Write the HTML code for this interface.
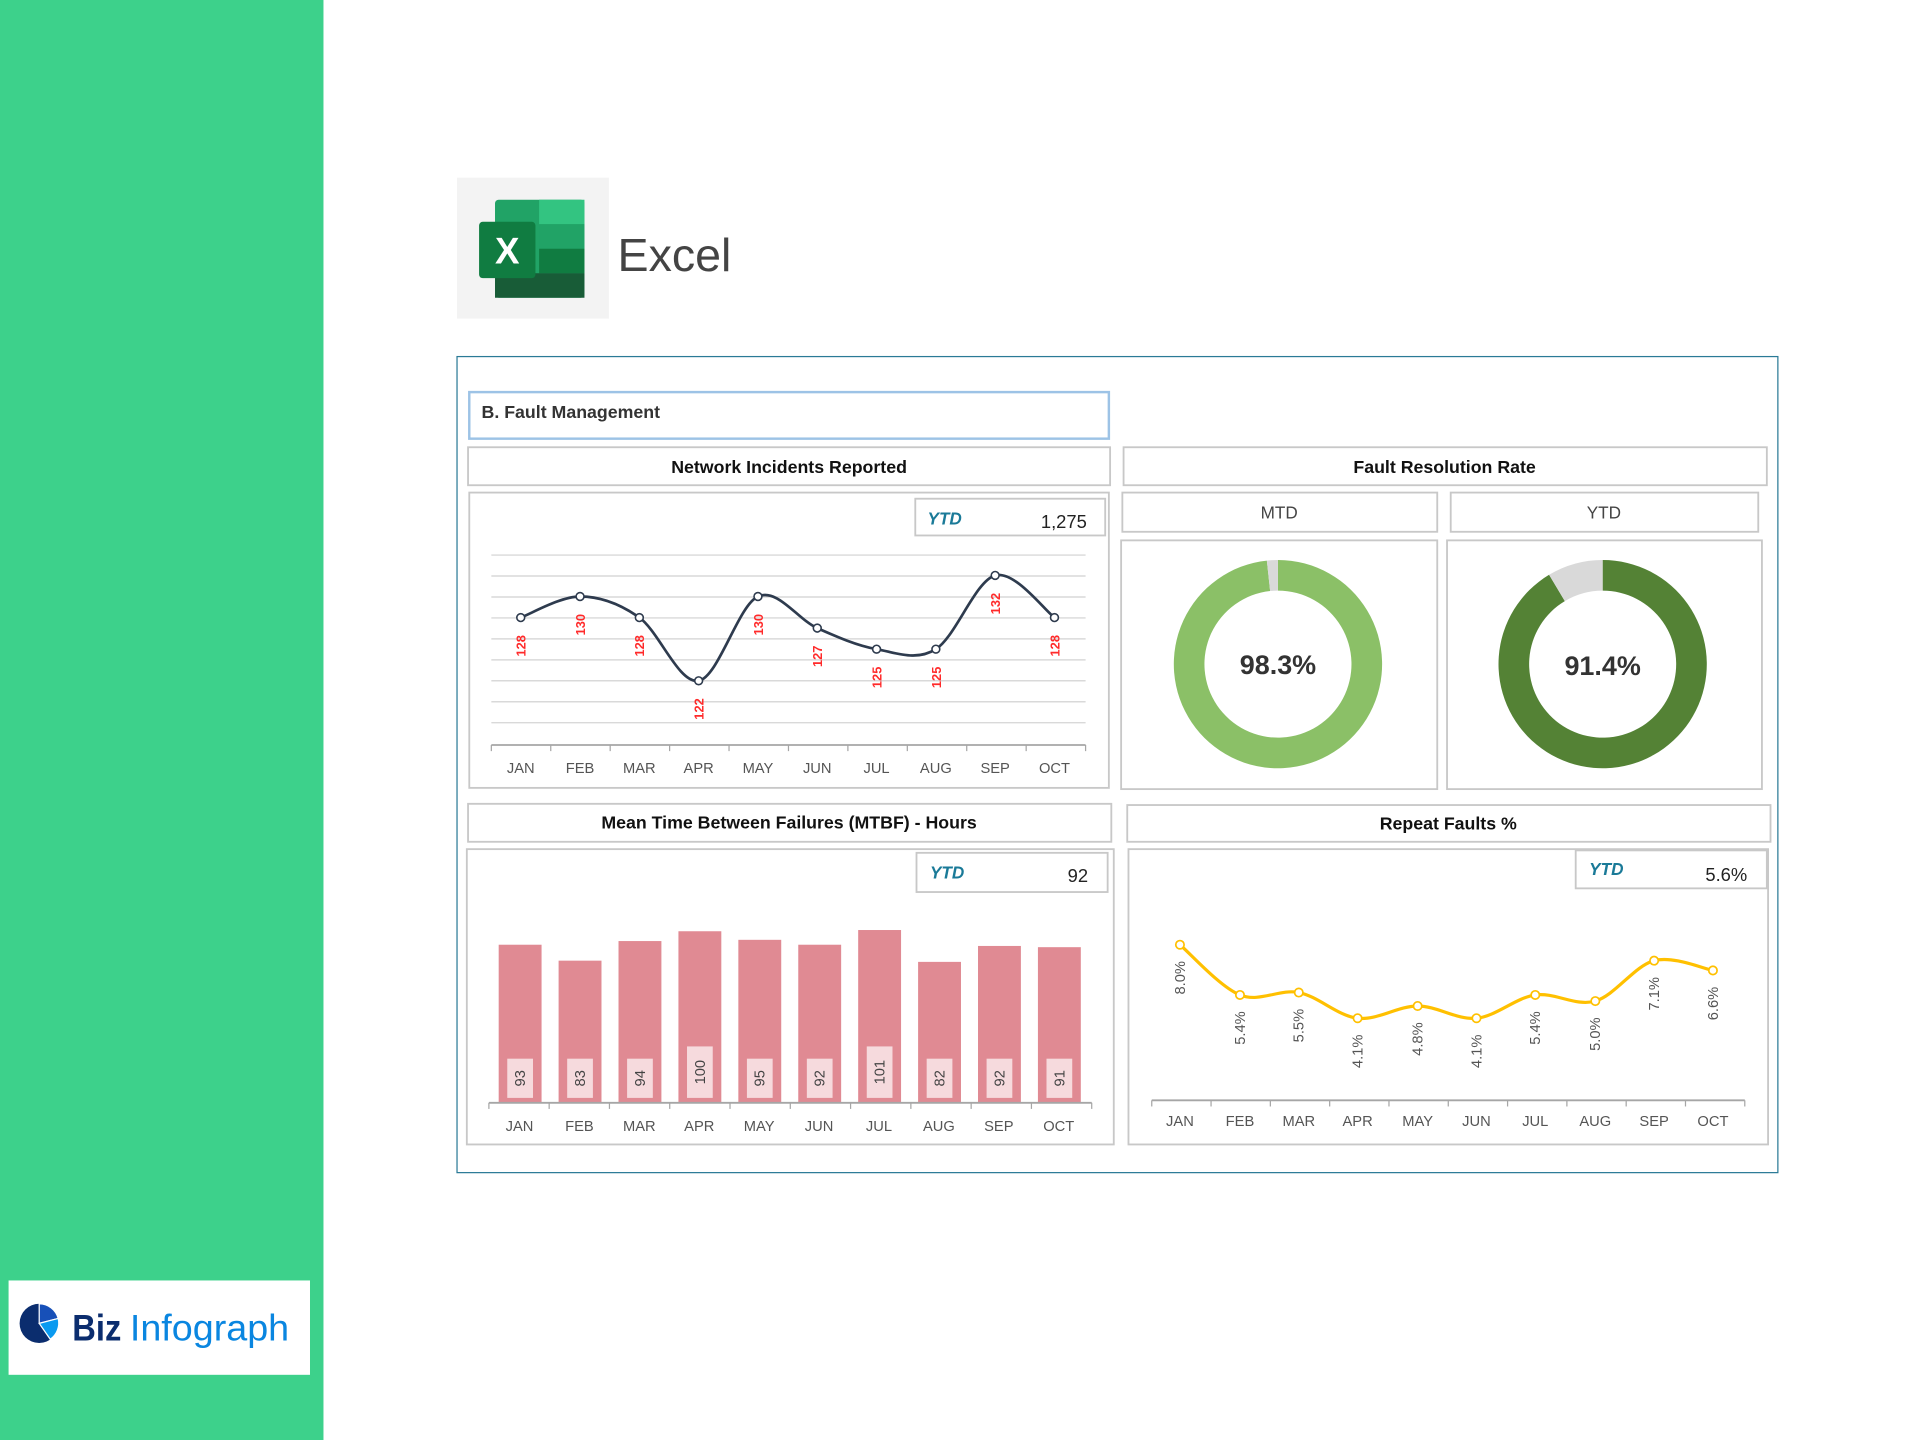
<!DOCTYPE html>
<html><head><meta charset="utf-8"><style>
html,body{margin:0;padding:0;background:#fff;}
svg{display:block;}
text{font-family:"Liberation Sans",sans-serif;}
</style></head><body>
<svg id="s" width="1920" height="1440" viewBox="0 0 1567 1175.2" preserveAspectRatio="none" xmlns="http://www.w3.org/2000/svg">
<rect x="0" y="0" width="1567" height="1176" fill="#fff"/>
<rect x="0" y="0" width="264" height="1176" fill="#3dd18b"/>
<rect x="7" y="1045" width="246" height="77" fill="#fff"/>
<g transform="translate(32,1080)">
<circle r="16" fill="#0b2d6e"/>
<path d="M0,0 L0,-16 A16,16 0 0 1 15.5,-4 Z" fill="#1750b8" stroke="#fff" stroke-width="1"/>
<path d="M0,0 L15.5,-4 A16,16 0 0 1 9,13 Z" fill="#0a9af0" stroke="#fff" stroke-width="1"/>
</g>
<text x="59" y="1094" font-size="30" fill="#0b2d6e" font-weight="bold" textLength="40" lengthAdjust="spacingAndGlyphs">Biz</text>
<text x="106" y="1094" font-size="30" fill="#0a86e0" textLength="130" lengthAdjust="spacingAndGlyphs">Infograph</text>

<rect x="373" y="145" width="124" height="115" fill="#f3f3f3"/>
<rect x="404" y="163" width="73" height="80" rx="3" fill="#21a366"/>
<rect x="440" y="163" width="37" height="20" fill="#33c481"/>
<rect x="440" y="183" width="37" height="20" fill="#21a366"/>
<rect x="440" y="203" width="37" height="20" fill="#107c41"/>
<rect x="404" y="223" width="73" height="20" fill="#185c37"/>
<rect x="391" y="181" width="46" height="46" rx="3" fill="#107c41"/>
<text x="414" y="215" font-size="30" fill="#fff" text-anchor="middle" font-weight="bold">X</text>
<text x="504" y="221" font-size="38" fill="#444">Excel</text>

<rect x="373" y="291" width="1078" height="666" fill="none" stroke="#2a7a96" stroke-width="1"/>
<rect x="383" y="320" width="522" height="38" fill="#fff" stroke="#9dc3e6" stroke-width="2"/>
<text x="393" y="341" font-size="14.5" font-weight="bold" fill="#333">B. Fault Management</text>

<g fill="#fff" stroke="#c8c8c8" stroke-width="1.5">
<rect x="382" y="365" width="524" height="31"/>
<rect x="917" y="365" width="525" height="31"/>
<rect x="916" y="402" width="257" height="32"/>
<rect x="1184" y="402" width="251" height="32"/>
<rect x="383" y="402" width="522" height="241"/>
<rect x="915" y="441" width="258" height="203"/>
<rect x="1181" y="441" width="257" height="203"/>
<rect x="382" y="656" width="525" height="31"/>
<rect x="381" y="693" width="528" height="241"/>
<rect x="920" y="657" width="525" height="30"/>
<rect x="921" y="693" width="522" height="241"/>
<rect x="747" y="407" width="155" height="30"/>
<rect x="748" y="696" width="156" height="32"/>
<rect x="1286" y="694" width="156" height="31"/>
</g>
<g font-size="14.5" font-weight="bold" fill="#111" text-anchor="middle">
<text x="644" y="386">Network Incidents Reported</text>
<text x="1179" y="386">Fault Resolution Rate</text>
<text x="644" y="676">Mean Time Between Failures (MTBF) - Hours</text>
<text x="1182" y="677">Repeat Faults %</text>
</g>
<g font-size="14" fill="#444" text-anchor="middle">
<text x="1044" y="423">MTD</text>
<text x="1309" y="423">YTD</text>
</g>
<g font-size="14" font-weight="bold" font-style="italic" fill="#1a7a98">
<text x="757" y="428">YTD</text><text x="759" y="717">YTD</text><text x="1297" y="714">YTD</text>
</g>
<g font-size="15" fill="#222" text-anchor="end">
<text x="887" y="431">1,275</text><text x="888" y="720">92</text><text x="1426" y="719">5.6%</text>
</g>

<g id="donuts"></g>
<text x="1043" y="550" font-size="22" font-weight="bold" fill="#333" text-anchor="middle">98.3%</text>
<text x="1308" y="551" font-size="22" font-weight="bold" fill="#333" text-anchor="middle">91.4%</text>

<g id="g1"></g><g id="g2"></g><g id="g3"></g>
</svg>
<script>
var NS="http://www.w3.org/2000/svg";
function el(p,t,a,txt){var e=document.createElementNS(NS,t);for(var k in a)e.setAttribute(k,a[k]);if(txt!=null)e.textContent=txt;p.appendChild(e);return e;}
function smooth(pts){var d="M"+pts[0][0]+","+pts[0][1];for(var i=0;i<pts.length-1;i++){var p0=pts[i-1]||pts[i],p1=pts[i],p2=pts[i+1],p3=pts[i+2]||p2;var t=6;d+=" C"+(p1[0]+(p2[0]-p0[0])/t)+","+(p1[1]+(p2[1]-p0[1])/t)+" "+(p2[0]-(p3[0]-p1[0])/t)+","+(p2[1]-(p3[1]-p1[1])/t)+" "+p2[0]+","+p2[1];}return d;}
var M=["JAN","FEB","MAR","APR","MAY","JUN","JUL","AUG","SEP","OCT"];
// donuts
var dg=document.getElementById("donuts");
function donut(cx,cy,ro,ri,frac,col){
 function arc(a0,a1,c){var x=function(r,a){return cx+r*Math.sin(a)},y=function(r,a){return cy-r*Math.cos(a)};var lg=(a1-a0)>Math.PI?1:0;
 el(dg,"path",{d:"M"+x(ro,a0)+","+y(ro,a0)+" A"+ro+","+ro+" 0 "+lg+" 1 "+x(ro,a1)+","+y(ro,a1)+" L"+x(ri,a1)+","+y(ri,a1)+" A"+ri+","+ri+" 0 "+lg+" 0 "+x(ri,a0)+","+y(ri,a0)+" Z",fill:c});}
 var a=frac*2*Math.PI;arc(0,a,col);arc(a,2*Math.PI-0.0001,"#d9d9d9");}
donut(1043,542,85,60,0.983,"#8bc067");
donut(1308,542,85,60,0.914,"#548235");
// chart 1
var g=document.getElementById("g1");
for(var i=0;i<9;i++){var y=453+i*17.1;el(g,"line",{x1:401,x2:886,y1:y,y2:y,stroke:"#d9d9d9","stroke-width":1.2});}
el(g,"line",{x1:401,x2:886,y1:608,y2:608,stroke:"#a6a6a6","stroke-width":1.5});
var v1=[128,130,128,122,130,127,125,125,132,128],p1=[];
for(var i=0;i<10;i++){var x=425+i*48.4;p1.push([x,504-(v1[i]-128)*8.6]);el(g,"text",{x:x,y:631,"font-size":12,fill:"#555","text-anchor":"middle"},M[i]);}
for(var i=0;i<=10;i++){var x=401+i*48.5;el(g,"line",{x1:x,x2:x,y1:608,y2:613,stroke:"#a6a6a6"});}
el(g,"path",{d:smooth(p1),fill:"none",stroke:"#2e3b4e","stroke-width":2.2});
p1.forEach(function(p,i){el(g,"circle",{cx:p[0],cy:p[1],r:3.2,fill:"#fff",stroke:"#2e3b4e","stroke-width":1.3});
 var ly=p[1]+23;el(g,"text",{x:p[0]+4,y:ly,"font-size":10.5,"font-weight":"bold",fill:"#ff2a2a","text-anchor":"middle",transform:"rotate(-90 "+(p[0]+4)+" "+ly+")"},v1[i]);});
// chart 2
g=document.getElementById("g2");
var v2=[93,83,94,100,95,92,101,82,92,91],tops=[771,784,768,760,767,771,759,785,772,773];
for(var i=0;i<10;i++){var x=407+i*48.9;el(g,"rect",{x:x,y:tops[i],width:35,height:900-tops[i],fill:"#e08a93"});
 var big=v2[i]>=100;var bh=big?42:32,by=896-bh;el(g,"rect",{x:x+7,y:by,width:21,height:bh,fill:"#f6dadd"});
 var cx=x+17.5,cy=by+bh/2;el(g,"text",{x:cx,y:cy+4,"font-size":12,fill:"#444","text-anchor":"middle",transform:"rotate(-90 "+cx+" "+cy+")"},v2[i]);
 el(g,"text",{x:x+17,y:923,"font-size":12,fill:"#555","text-anchor":"middle"},M[i]);}
el(g,"line",{x1:399,x2:891,y1:900,y2:900,stroke:"#a6a6a6","stroke-width":1.5});
for(var i=0;i<=10;i++){var x=399+i*49.2;el(g,"line",{x1:x,x2:x,y1:900,y2:905,stroke:"#a6a6a6"});}
// chart 3
g=document.getElementById("g3");
var pts=[[963,771],[1012,812],[1060,810],[1108,831],[1157,821],[1205,831],[1253,812],[1302,817],[1350,784],[1398,792]];
var lb=["8.0%","5.4%","5.5%","4.1%","4.8%","4.1%","5.4%","5.0%","7.1%","6.6%"];
el(g,"line",{x1:940,x2:1424,y1:898,y2:898,stroke:"#a6a6a6","stroke-width":1.5});
for(var i=0;i<=10;i++){var x=940+i*48.4;el(g,"line",{x1:x,x2:x,y1:898,y2:903,stroke:"#a6a6a6"});}
el(g,"path",{d:smooth(pts),fill:"none",stroke:"#ffc000","stroke-width":2.6});
pts.forEach(function(p,i){el(g,"circle",{cx:p[0],cy:p[1],r:3.4,fill:"#fff",stroke:"#ffc000","stroke-width":1.4});
 var ly=p[1]+27;el(g,"text",{x:p[0]+4,y:ly,"font-size":12,fill:"#555","text-anchor":"middle",transform:"rotate(-90 "+(p[0]+4)+" "+ly+")"},lb[i]);
 el(g,"text",{x:p[0],y:919,"font-size":12,fill:"#555","text-anchor":"middle"},M[i]);});
</script>
</body></html>
